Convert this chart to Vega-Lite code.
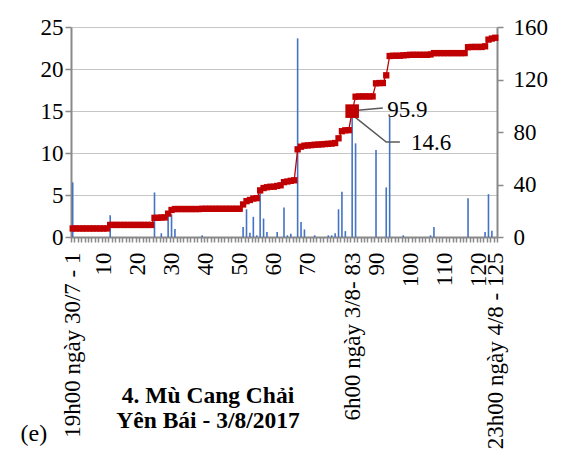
{
"$schema":"https://vega.github.io/schema/vega-lite/v6.json",
"width":426,"height":210,
"autosize":{"type":"none"},
"padding":{"left":71,"top":27,"right":86,"bottom":219},
"background":"white",
"config":{"view":{"stroke":null},"font":"Liberation Serif",
 "axis":{"labelFont":"Liberation Serif","labelFontSize":23,"labelColor":"black","domainColor":"#898989","tickColor":"#898989","domainWidth":2,"tickWidth":1.5,"labelLimit":400},
 "axisX":{"tickBand":"extent","tickSize":5,"labelAngle":-90,"labelPadding":10,"labelOverlap":false,"labelFlush":false,"labelBound":false,"grid":false,"labelLimit":400,
  "labelExpr":"datum.value == 1 ? '19h00 ngày 30/7 - 1' : datum.value == 83 ? '6h00 ngày 3/8- 83' : datum.value == 125 ? '23h00 ngày 4/8 - 125' : (datum.value % 10 == 0 && datum.value != 80) ? '' + datum.value : ''",
  "titleAngle":0,"titleX":-51,"titleY":203,"titleAlign":"left","titleBaseline":"alphabetic","titleFont":"Liberation Serif","titleFontSize":24,"titleFontWeight":"normal","titleColor":"black"}},
"title":{"text":["4. Mù Cang Chải","Yên Bái - 3/8/2017"],"orient":"bottom","anchor":"middle","frame":"group","dx":-76,"offset":-65,"font":"Liberation Serif","fontSize":23.5,"fontWeight":"bold","lineHeight":25,"color":"black"},
"datasets":{
"main":[
{"i":1,"r":6.5,"c":6.5},{"i":2,"r":0,"c":6.5},{"i":3,"r":0,"c":6.5},{"i":4,"r":0,"c":6.5},{"i":5,"r":0,"c":6.5},{"i":6,"r":0,"c":6.5},{"i":7,"r":0,"c":6.5},{"i":8,"r":0,"c":6.5},{"i":9,"r":0,"c":6.5},{"i":10,"r":0,"c":6.5},
{"i":11,"r":0,"c":6.5},{"i":12,"r":2.6,"c":9.2},{"i":13,"r":0,"c":9.2},{"i":14,"r":0,"c":9.2},{"i":15,"r":0,"c":9.2},{"i":16,"r":0,"c":9.2},{"i":17,"r":0,"c":9.2},{"i":18,"r":0,"c":9.2},{"i":19,"r":0,"c":9.2},{"i":20,"r":0,"c":9.2},
{"i":21,"r":0,"c":9.2},{"i":22,"r":0,"c":9.2},{"i":23,"r":0,"c":9.2},{"i":24,"r":0,"c":9.2},{"i":25,"r":5.3,"c":14.6},{"i":26,"r":0,"c":14.6},{"i":27,"r":0.45,"c":14.9},{"i":28,"r":0,"c":14.9},{"i":29,"r":2.5,"c":17.8},{"i":30,"r":2.7,"c":20.6},
{"i":31,"r":0.95,"c":21.3},{"i":32,"r":0,"c":21.3},{"i":33,"r":0,"c":21.3},{"i":34,"r":0,"c":21.3},{"i":35,"r":0,"c":21.3},{"i":36,"r":0,"c":21.3},{"i":37,"r":0,"c":21.3},{"i":38,"r":0,"c":21.3},{"i":39,"r":0.2,"c":21.5},{"i":40,"r":0,"c":21.5},
{"i":41,"r":0,"c":21.5},{"i":42,"r":0,"c":21.5},{"i":43,"r":0,"c":21.5},{"i":44,"r":0,"c":21.5},{"i":45,"r":0,"c":21.5},{"i":46,"r":0,"c":21.5},{"i":47,"r":0,"c":21.5},{"i":48,"r":0,"c":21.5},{"i":49,"r":0,"c":21.5},{"i":50,"r":0,"c":21.5},
{"i":51,"r":1.2,"c":24.8},{"i":52,"r":3.3,"c":27.3},{"i":53,"r":0.5,"c":28.2},{"i":54,"r":2.4,"c":29.3},{"i":55,"r":0.2,"c":29.6},{"i":56,"r":5.2,"c":35.5},{"i":57,"r":2.2,"c":37.3},{"i":58,"r":0.6,"c":37.9},{"i":59,"r":0,"c":38.3},{"i":60,"r":0,"c":38.3},
{"i":61,"r":0.6,"c":38.9},{"i":62,"r":0,"c":39.4},{"i":63,"r":3.5,"c":41.8},{"i":64,"r":0.2,"c":42.3},{"i":65,"r":0.4,"c":42.8},{"i":66,"r":0,"c":43.2},{"i":67,"r":23.65,"c":66.8},{"i":68,"r":1.8,"c":68.8},{"i":69,"r":0.9,"c":69.6},{"i":70,"r":0,"c":69.8},
{"i":71,"r":0,"c":70.0},{"i":72,"r":0.2,"c":70.3},{"i":73,"r":0,"c":70.4},{"i":74,"r":0,"c":70.6},{"i":75,"r":0,"c":70.8},{"i":76,"r":0.2,"c":71.0},{"i":77,"r":0.2,"c":71.2},{"i":78,"r":0.45,"c":71.6},{"i":79,"r":3.3,"c":75.2},{"i":80,"r":5.4,"c":80.6},
{"i":81,"r":0.7,"c":81.3},{"i":82,"r":0,"c":81.4},{"i":83,"r":14.6,"c":95.9},{"i":84,"r":11.15,"c":106.9},{"i":85,"r":0,"c":107.1},{"i":86,"r":0,"c":107.1},{"i":87,"r":0,"c":107.1},{"i":88,"r":0,"c":107.1},{"i":89,"r":0,"c":107.1},{"i":90,"r":10.35,"c":117.1},
{"i":91,"r":0,"c":117.3},{"i":92,"r":0,"c":117.3},{"i":93,"r":5.9,"c":123.2},{"i":94,"r":14.3,"c":137.9},{"i":95,"r":0,"c":138.1},{"i":96,"r":0,"c":138.1},{"i":97,"r":0,"c":138.1},{"i":98,"r":0.2,"c":138.4},{"i":99,"r":0,"c":138.6},{"i":100,"r":0,"c":138.8},
{"i":101,"r":0,"c":138.8},{"i":102,"r":0,"c":138.8},{"i":103,"r":0,"c":138.8},{"i":104,"r":0,"c":138.8},{"i":105,"r":0,"c":138.8},{"i":106,"r":0.2,"c":139.1},{"i":107,"r":1.2,"c":140.1},{"i":108,"r":0,"c":140.1},{"i":109,"r":0,"c":140.1},{"i":110,"r":0,"c":140.1},
{"i":111,"r":0,"c":140.1},{"i":112,"r":0,"c":140.1},{"i":113,"r":0,"c":140.1},{"i":114,"r":0,"c":140.1},{"i":115,"r":0,"c":140.1},{"i":116,"r":0,"c":140.1},{"i":117,"r":4.6,"c":144.6},{"i":118,"r":0,"c":144.8},{"i":119,"r":0,"c":144.8},{"i":120,"r":0,"c":144.8},
{"i":121,"r":0,"c":144.8},{"i":122,"r":0.6,"c":145.3},{"i":123,"r":5.1,"c":150.4},{"i":124,"r":0.75,"c":151.2},{"i":125,"r":0,"c":151.8}
],
"big":[{"i":83,"c":95.9}],
"lead":[{"g":1,"i":83,"c":96.2},{"g":1,"i":92,"c":98.3},{"g":2,"i":83,"c":93},{"g":2,"i":93,"c":72.4},{"g":2,"i":97,"c":72.4}],
"ann":[{"i":93,"c":97.1,"t":"95.9"},{"i":100,"c":71.6,"t":"14.6"}]
},
"layer":[
{"data":{"name":"main"},
 "mark":{"type":"bar","color":"#4472C4","width":1.6},
 "encoding":{
  "x":{"field":"i","type":"ordinal","title":"(e)","scale":{"paddingInner":0,"paddingOuter":0}},
  "y":{"field":"r","type":"quantitative","title":null,"scale":{"domain":[0,25],"nice":false},
   "axis":{"values":[0,5,10,15,20,25],"grid":true,"gridColor":"#C6C6C6","gridWidth":1.2,"tickSize":6,"labelPadding":2,"orient":"left"}}}},
{"layer":[
 {"data":{"name":"main"},
  "mark":{"type":"line","color":"#C00000","strokeWidth":1.3},
  "encoding":{
   "x":{"field":"i","type":"ordinal","title":"(e)"},
   "y":{"field":"c","type":"quantitative","title":null,"scale":{"domain":[0,160],"nice":false},
    "axis":{"orient":"right","values":[0,20,40,60,80,100,120,140,160],"grid":false,"tickSize":6,"labelPadding":10}}}},
 {"data":{"name":"main"},
  "mark":{"type":"point","shape":"square","filled":true,"size":40,"color":"#C00000","opacity":1},
  "encoding":{
   "x":{"field":"i","type":"ordinal","title":"(e)"},
   "y":{"field":"c","type":"quantitative","title":null}}},
 {"data":{"name":"lead"},
  "mark":{"type":"line","color":"#595959","strokeWidth":1.5},
  "encoding":{
   "x":{"field":"i","type":"ordinal","title":"(e)"},
   "y":{"field":"c","type":"quantitative","title":null},
   "detail":{"field":"g"}}},
 {"data":{"name":"big"},
  "mark":{"type":"point","shape":"square","filled":true,"size":185,"color":"#C00000","opacity":1},
  "encoding":{
   "x":{"field":"i","type":"ordinal","title":"(e)"},
   "y":{"field":"c","type":"quantitative","title":null}}},
 {"data":{"name":"ann"},
  "mark":{"type":"text","align":"left","baseline":"middle","font":"Liberation Serif","fontSize":23,"color":"black","dx":1},
  "encoding":{
   "x":{"field":"i","type":"ordinal","title":"(e)"},
   "y":{"field":"c","type":"quantitative","title":null},
   "text":{"field":"t"}}}
]}
],
"resolve":{"scale":{"y":"independent"}}
}
